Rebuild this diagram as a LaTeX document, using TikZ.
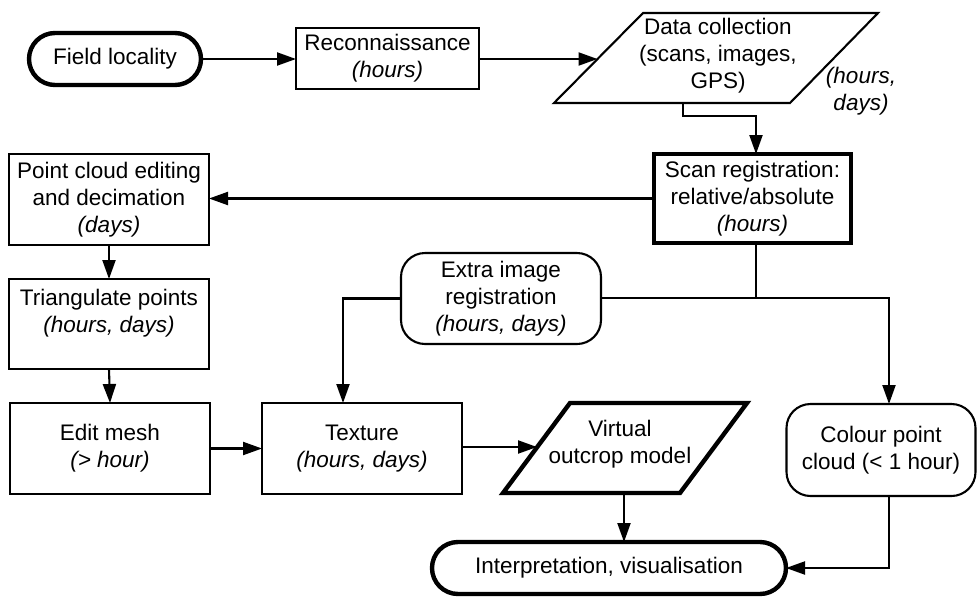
\documentclass[tikz,border=0pt]{standalone}
\usepackage{fontspec}
\setmainfont{Liberation Sans}
\usetikzlibrary{arrows.meta}
\begin{document}
\begin{tikzpicture}[x=1pt,y=-1pt,
  every node/.style={font=\fontsize{22.5}{27}\selectfont, align=center, inner sep=0pt, outer sep=0pt},
  boxthin/.style={draw, line width=2.1pt},
  boxthick/.style={draw, line width=4.6pt},
  stadium/.style={draw, line width=4.4pt, rounded corners=26pt},
  roundbox/.style={draw, line width=2.1pt, rounded corners=24pt},
  conn/.style={line width=2.1pt},
  arr/.style={line width=2.1pt, -{Triangle[length=19pt,width=13pt]}}
]
\useasboundingbox (0,0) rectangle (978,598);

% nodes
\node[stadium, minimum width=172pt, minimum height=52pt] (field) at (115,59) {Field locality};
\node[boxthin, minimum width=183pt, minimum height=61pt] (recon) at (387.5,58.5) {Reconnaissance\\\textit{(hours)}};

\draw[line width=2.1pt, line join=miter] (643,13) -- (878,13) -- (790,103) -- (554,103) -- cycle;
\node (data) at (718,56) {Data collection\\(scans, images,\\GPS)};
\node (datatime) at (861,91) {\textit{(hours,}\\\textit{days)}};
\coordinate (dataL) at (597.5,59);
\coordinate (dataB) at (683,103);

\node[boxthick, minimum width=197pt, minimum height=89pt] (scan) at (752.5,198.5) {Scan registration:\\relative/absolute\\\textit{(hours)}};
\node[boxthin, minimum width=200pt, minimum height=91pt] (pce) at (109,199.5) {Point cloud editing\\and decimation\\\textit{(days)}};
\node[boxthin, minimum width=200pt, minimum height=90pt] (tri) at (109,324) {};
\node (trilabel) at (109,313) {Triangulate points\\\textit{(hours, days)}};
\node[roundbox, minimum width=200pt, minimum height=91pt] (extra) at (501,298.5) {Extra image\\registration\\\textit{(hours, days)}};
\node[boxthin, minimum width=200pt, minimum height=91pt] (edit) at (110,448.5) {Edit mesh\\\textit{(> hour)}};
\node[boxthin, minimum width=200pt, minimum height=91pt] (texture) at (362,448.5) {Texture\\\textit{(hours, days)}};

\draw[line width=4.4pt, line join=miter] (570,403) -- (747,403) -- (680,493) -- (503,493) -- cycle;
\node (virtual) at (620,444) {Virtual\\outcrop model};
\coordinate (virtL) at (537,447);
\coordinate (virtB) at (624,493);

\node[roundbox, minimum width=189pt, minimum height=92pt] (colour) at (881,450) {Colour point\\cloud (< 1 hour)};
\node[stadium, minimum width=354pt, minimum height=52pt] (interp) at (609,568) {Interpretation, visualisation};

\coordinate (J) at (756,298);

% connectors
\draw[arr] (field.east) -- (recon.west |- field.east);
\draw[arr] (recon.east |- dataL) -- (dataL);
\draw[arr] (dataB) -- ++(0,13) -| ([xshift=3.5pt]scan.north);
\draw[arr] (scan.west) -- (scan.west -| pce.east);
\draw[arr] (pce.south) -- (tri.north);
\draw[arr] (tri.south) -- (edit.north);
\draw[arr] (edit.east) -- (texture.west);
\draw[arr] (texture.east |- virtL) -- (virtL);
\draw[arr] (virtB) -- (virtB |- interp.north);
\draw[conn] ([xshift=3.5pt]scan.south) -- (J);
\draw[conn] (extra.east |- J) -- (J);
\draw[arr] (J) -| ([xshift=8pt]colour.north);
\draw[arr] (extra.west) -| ([xshift=-19pt]texture.north);
\draw[arr] ([xshift=8pt]colour.south) |- (interp.east);
\end{tikzpicture}
\end{document}
